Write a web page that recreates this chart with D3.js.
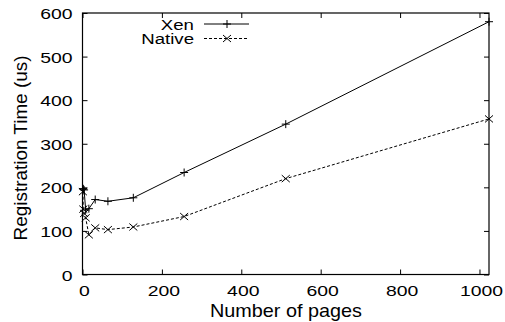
<!DOCTYPE html>
<html lang="en">
<head>
<meta charset="utf-8">
<title>registration time</title>
<script src="https://cdnjs.cloudflare.com/ajax/libs/d3/7.8.5/d3.min.js"></script>
<style>
  body { margin: 0; background: #fff; }
  text { font-family: "Liberation Sans", Arial, sans-serif; fill: #000; }
</style>
</head>
<body>
<script>
// data
var pages = [1, 2, 4, 8, 16, 32, 64, 128, 256, 512, 1024];
var xen = [197, 196, 194, 148, 151, 172, 168, 176, 234, 345, 580];
var native = [190, 150, 140, 130, 91, 107, 103, 109, 133, 220, 357];
var xTicks = [0, 200, 400, 600, 800, 1000];
var yTicks = [0, 100, 200, 300, 400, 500, 600];

var w = 505, h = 322;
var pLeft = 82.5, pRight = 489, pTop = 13, pBottom = 274.5;

var svg = d3.select("body").append("svg")
  .attr("width", w).attr("height", h);

var x = d3.scaleLinear().domain([0, 1024]).range([pLeft, pRight]);
var y = d3.scaleLinear().domain([0, 600]).range([pBottom, pTop]);

// widen text a bit, the reference glyphs look stretched
function stretch(sel, k) {
  sel.each(function() {
    var len = this.getComputedTextLength();
    d3.select(this).attr("textLength", len * k).attr("lengthAdjust", "spacingAndGlyphs");
  });
}

// axes, gnuplot style ticks pointing inward, mirrored
var tl = 5;
var gB = svg.append("g").attr("transform", "translate(0," + pBottom + ")")
  .call(d3.axisBottom(x).tickValues(xTicks).tickFormat(d3.format("d"))
    .tickSizeInner(-tl).tickSizeOuter(0).tickPadding(10));
svg.append("g").attr("transform", "translate(0," + pTop + ")")
  .call(d3.axisTop(x).tickValues(xTicks).tickSizeInner(-tl).tickSizeOuter(0).tickFormat(""));
var gL = svg.append("g").attr("transform", "translate(" + pLeft + ",0)")
  .call(d3.axisLeft(y).tickValues(yTicks).tickFormat(d3.format("d"))
    .tickSizeInner(-tl).tickSizeOuter(0).tickPadding(10));
svg.append("g").attr("transform", "translate(" + pRight + ",0)")
  .call(d3.axisRight(y).tickValues(yTicks).tickSizeInner(-tl).tickSizeOuter(0).tickFormat(""));

svg.selectAll(".domain").remove();
svg.selectAll(".tick line").attr("stroke", "#000");
svg.selectAll(".tick text")
  .attr("font-size", 15.5)
  .attr("font-family", "Liberation Sans, Arial, sans-serif")
  .attr("fill", "#000");
gB.selectAll(".tick text").attr("dy", "0.75em").attr("x", 1.5);
gL.selectAll(".tick text").attr("dy", "0.36em");
stretch(svg.selectAll(".tick text"), 1.25);

svg.append("rect")
  .attr("x", pLeft).attr("y", pTop)
  .attr("width", pRight - pLeft).attr("height", pBottom - pTop)
  .attr("fill", "none").attr("stroke", "#000").attr("stroke-width", 1.2);

// axis titles
svg.append("text")
  .attr("x", 286).attr("y", 316.5)
  .attr("text-anchor", "middle")
  .attr("font-size", 18.5)
  .text("Number of pages")
  .call(stretch, 1.07);
svg.append("text")
  .attr("transform", "translate(26.5,148) rotate(-90)")
  .attr("text-anchor", "middle")
  .attr("font-size", 18)
  .text("Registration Time (us)")
  .call(stretch, 1.05);

var line = d3.line();

function plus(g, cx, cy) {
  g.append("path")
    .attr("d", "M" + (cx - 4) + "," + cy + "H" + (cx + 4) + "M" + cx + "," + (cy - 4) + "V" + (cy + 4))
    .attr("stroke", "#000").attr("fill", "none");
}
function cross(g, cx, cy) {
  g.append("path")
    .attr("d", "M" + (cx - 4) + "," + (cy - 3.5) + "L" + (cx + 4) + "," + (cy + 3.5) +
               "M" + (cx - 4) + "," + (cy + 3.5) + "L" + (cx + 4) + "," + (cy - 3.5))
    .attr("stroke", "#000").attr("fill", "none");
}

// Xen
var ptsX = pages.map(function(p, i) { return [x(p), y(xen[i])]; });
svg.append("path").attr("d", line(ptsX))
  .attr("fill", "none").attr("stroke", "#000").attr("stroke-width", 1);
var gx = svg.append("g");
ptsX.forEach(function(p) { plus(gx, p[0], p[1]); });

// Native
var ptsN = pages.map(function(p, i) { return [x(p), y(native[i])]; });
svg.append("path").attr("d", line(ptsN))
  .attr("fill", "none").attr("stroke", "#000").attr("stroke-width", 1)
  .attr("stroke-dasharray", "3,2");
var gn = svg.append("g");
ptsN.forEach(function(p) { cross(gn, p[0], p[1]); });

// legend
var legend = [
  { name: "Xen", dash: null, mark: plus },
  { name: "Native", dash: "3,2", mark: cross }
];
legend.forEach(function(d, i) {
  var ly = 24 + i * 14.5;
  svg.append("text")
    .attr("x", 194).attr("y", ly + 5.5)
    .attr("text-anchor", "end")
    .attr("font-size", 15.5)
    .text(d.name)
    .call(stretch, 1.2);
  svg.append("line")
    .attr("x1", 204).attr("x2", 249).attr("y1", ly).attr("y2", ly)
    .attr("stroke", "#000").attr("stroke-dasharray", d.dash);
  d.mark(svg, 227, ly);
});
</script>
</body>
</html>
